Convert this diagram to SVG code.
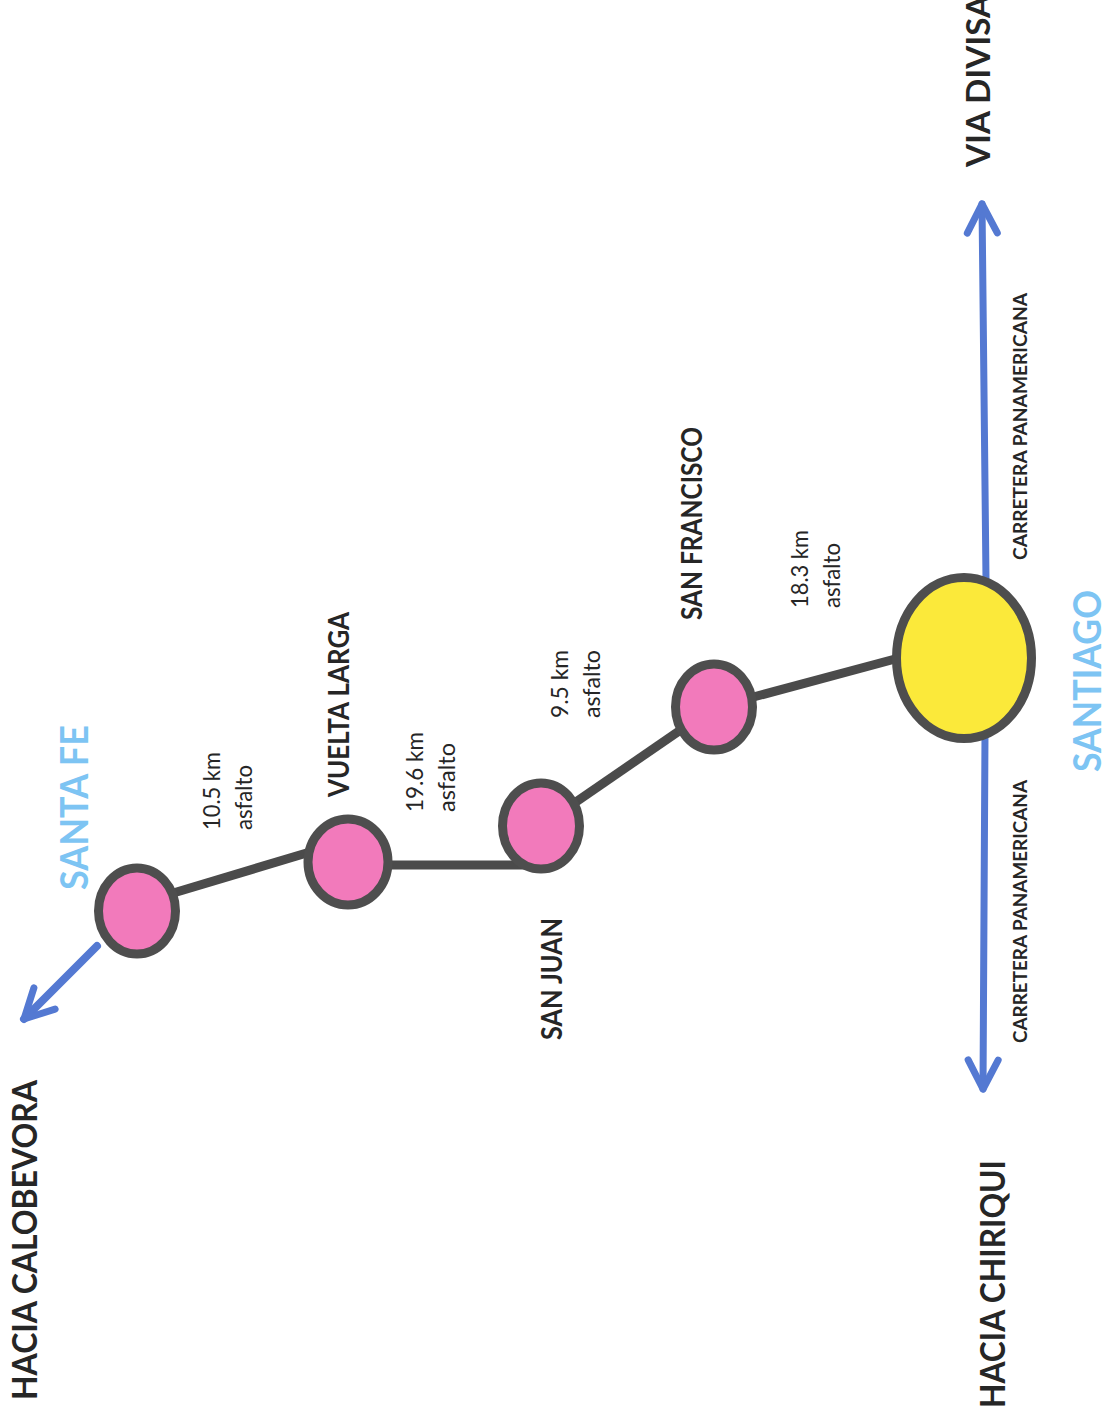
<svg xmlns="http://www.w3.org/2000/svg" width="1110" height="1425" viewBox="0 0 1110 1425">
  <style>
    .road { fill: none; stroke: #4b4b4b; stroke-width: 9; stroke-linecap: butt; }
    .route { fill: none; stroke: #5479d2; stroke-linecap: round; }
    .town { fill: #f27abb; stroke: #4e4e4e; stroke-width: 9; }
    .city { fill: #fbe93a; stroke: #4e4e4e; stroke-width: 9; }
    .lbl { font-family: Lato, "Open Sans", "Liberation Sans", sans-serif; fill: #262626; }
    .b { font-weight: 700; }
    .dist { font-size: 23px; font-weight: 400; }
    .place { font-size: 28px; }
    .sky { fill: #7dc4f3; }
    .hwy { font-size: 18px; }
  </style>
  <defs>
    <marker id="chev" markerUnits="userSpaceOnUse" viewBox="-36 -22 42 44" markerWidth="42" markerHeight="44" refX="0" refY="0" orient="auto">
      <path d="M-29,-15 L0,0 L-29,15" fill="none" stroke="#5479d2" stroke-width="7" stroke-linecap="round" stroke-linejoin="round"/>
    </marker>
  </defs>

  <!-- roads between towns and highway arrows -->
  <g id="connectors">
    <line class="road" x1="160" y1="897" x2="320" y2="849"/>
    <polyline class="road" points="348,865 541,865 541,826"/>
    <line class="road" x1="541" y1="826" x2="714" y2="707"/>
    <line class="road" x1="735" y1="702" x2="910" y2="655"/>
    <line class="route" stroke-width="8" x1="97" y1="946" x2="24" y2="1019" marker-end="url(#chev)"/>
    <line class="route" stroke-width="7" x1="986" y1="580" x2="982" y2="204" marker-end="url(#chev)"/>
    <line class="route" stroke-width="7" x1="985" y1="735" x2="983" y2="1089" marker-end="url(#chev)"/>
  </g>

  <g id="santa-fe">
    <ellipse class="town" cx="137" cy="911" rx="38.5" ry="43"/>
    <text class="lbl b sky" font-size="39" transform="translate(88,890) rotate(-90)" textLength="165" lengthAdjust="spacingAndGlyphs">SANTA FE</text>
  </g>

  <g id="vuelta-larga">
    <ellipse class="town" cx="348" cy="862" rx="40" ry="43"/>
    <text class="lbl b place" transform="translate(349,797) rotate(-90)" textLength="185" lengthAdjust="spacingAndGlyphs">VUELTA LARGA</text>
  </g>

  <g id="san-juan">
    <ellipse class="town" cx="541" cy="826" rx="38.5" ry="43"/>
    <text class="lbl b place" transform="translate(562,1040) rotate(-90)" textLength="122" lengthAdjust="spacingAndGlyphs">SAN JUAN</text>
  </g>

  <g id="san-francisco">
    <ellipse class="town" cx="714" cy="707" rx="38.5" ry="43"/>
    <text class="lbl b place" transform="translate(702,620) rotate(-90)" textLength="193" lengthAdjust="spacingAndGlyphs">SAN FRANCISCO</text>
  </g>

  <g id="santiago">
    <ellipse class="city" cx="964" cy="658" rx="67.5" ry="80.5"/>
    <text class="lbl b sky" font-size="38" transform="translate(1101,772) rotate(-90)" textLength="182" lengthAdjust="spacingAndGlyphs">SANTIAGO</text>
  </g>

  <g id="distances">
    <text class="lbl dist" transform="translate(220,830) rotate(-90)" textLength="78" lengthAdjust="spacingAndGlyphs">10.5 km</text>
    <text class="lbl dist" transform="translate(252,830) rotate(-90)" textLength="65" lengthAdjust="spacingAndGlyphs">asfalto</text>
    <text class="lbl dist" transform="translate(423,812) rotate(-90)" textLength="80" lengthAdjust="spacingAndGlyphs">19.6 km</text>
    <text class="lbl dist" transform="translate(455,812) rotate(-90)" textLength="69" lengthAdjust="spacingAndGlyphs">asfalto</text>
    <text class="lbl dist" transform="translate(568,718) rotate(-90)" textLength="68" lengthAdjust="spacingAndGlyphs">9.5 km</text>
    <text class="lbl dist" transform="translate(600,718) rotate(-90)" textLength="68" lengthAdjust="spacingAndGlyphs">asfalto</text>
    <text class="lbl dist" transform="translate(808,608) rotate(-90)" textLength="78" lengthAdjust="spacingAndGlyphs">18.3 km</text>
    <text class="lbl dist" transform="translate(840,608) rotate(-90)" textLength="65" lengthAdjust="spacingAndGlyphs">asfalto</text>
  </g>

  <g id="destinations">
    <text class="lbl b" font-size="33.5" transform="translate(37,1400) rotate(-90)" textLength="320" lengthAdjust="spacingAndGlyphs">HACIA CALOBEVORA</text>
    <text class="lbl b" font-size="32" transform="translate(990,167) rotate(-90)" textLength="172" lengthAdjust="spacingAndGlyphs">VIA DIVISA</text>
    <text class="lbl b" font-size="35" transform="translate(1005,1408) rotate(-90)" textLength="248" lengthAdjust="spacingAndGlyphs">HACIA CHIRIQUI</text>
    <text class="lbl b hwy" transform="translate(1027,560) rotate(-90)" textLength="267" lengthAdjust="spacingAndGlyphs">CARRETERA PANAMERICANA</text>
    <text class="lbl b hwy" transform="translate(1027,1043) rotate(-90)" textLength="263" lengthAdjust="spacingAndGlyphs">CARRETERA PANAMERICANA</text>
  </g>
</svg>
